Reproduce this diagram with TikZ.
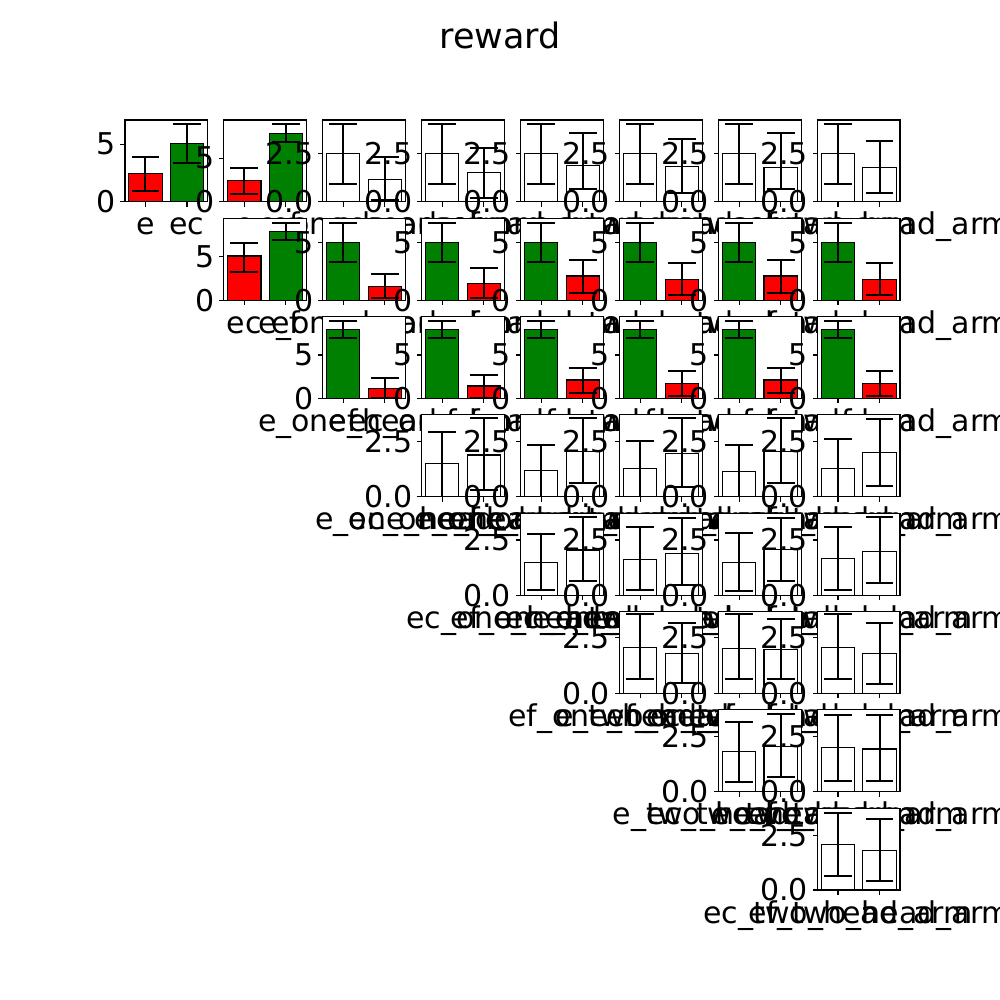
\documentclass[tikz,border=0pt]{standalone}
\usepackage{fontspec}
\setmainfont{DejaVu Sans}
\definecolor{mplgreen}{HTML}{008000}
\definecolor{mplred}{HTML}{FF0000}
\tikzset{
  barbox/.style={draw=black, line width=1.1pt},
  errline/.style={draw=black, line width=2pt},
  spine/.style={draw=black, line width=1.1pt},
  tickmark/.style={draw=black, line width=1.1pt},
  ticklab/.style={inner sep=0pt, outer sep=0pt, font=\fontsize{30}{36}\selectfont},
}
\newcommand\cnd[1]{\ifcase#1 e\or ec\or ef\or e\_one\_head\_arm\or ec\_one\_head\_arm\or ef\_one\_head\_arm\or e\_two\_head\_arm\or ec\_two\_head\_arm\or ef\_two\_head\_arm\fi}
\newcommand\bars[8]{\def\cA{#1}\def\hA{#2}\def\tA{#3}\def\bA{#4}\def\cB{#5}\def\hB{#6}\def\tB{#7}\def\bB{#8}}
\newcommand\panel[5]{%
  \pgfmathsetmacro\L{125+#2*98.94}%
  \pgfmathsetmacro\R{\L+82.45}%
  \pgfmathsetmacro\B{201.9+#1*98.3}%
  \pgfmathsetmacro\T{\B-81.9}%
  \pgfmathsetmacro\xA{\L+20.4}%
  \pgfmathsetmacro\xB{\L+62.0}%
  \fill[white] (\L,\T) rectangle (\R,\B);
  \begin{scope}
    \clip (\L,\T) rectangle (\R,\B);
    \filldraw[barbox, fill=\cA] (\xA-16.65,\B) rectangle (\xA+16.65,\B-\hA);
    \filldraw[barbox, fill=\cB] (\xB-16.65,\B) rectangle (\xB+16.65,\B-\hB);
    \draw[errline] (\xA,\B-\tA) -- (\xA,\B-\bA)
      (\xA-13.9,\B-\tA) -- (\xA+13.9,\B-\tA) (\xA-13.9,\B-\bA) -- (\xA+13.9,\B-\bA);
    \draw[errline] (\xB,\B-\tB) -- (\xB,\B-\bB)
      (\xB-13.9,\B-\tB) -- (\xB+13.9,\B-\tB) (\xB-13.9,\B-\bB) -- (\xB+13.9,\B-\bB);
  \end{scope}
  \draw[spine] (\L,\T) rectangle (\R,\B);
  \draw[tickmark] (\xA,\B) -- (\xA,\B+4.9) (\xB,\B) -- (\xB,\B+4.9)
    (\L,\B) -- (\L-4.9,\B) (\L,\B-#5) -- (\L-4.9,\B-#5);
  \node[ticklab, anchor=east] (yz-#1-#2) at (\L-9.7,\B) {#4};
  \node[ticklab, anchor=east] (yt-#1-#2) at (\L-9.7,\B-#5) {#3};
  \node[ticklab, anchor=base] (xa-#1-#2) at (\xA,\B+33) {\cnd{#1}};
  \node[ticklab, anchor=base] (xb-#1-#2) at (\xB,\B+33) {\cnd{\numexpr#2+1\relax}};
}
\begin{document}
\begin{tikzpicture}[x=1pt,y=-1pt]
\useasboundingbox (0,0) rectangle (1000,1000);
\clip (0,0) rectangle (1000,1000);
\fill[white] (0,0) rectangle (1000,1000);
\node[inner sep=0pt, anchor=base, font=\fontsize{35}{42}\selectfont] (title) at (500,48.3) {reward};
% row 0
\bars{mplred}{28}{45}{11}{mplgreen}{58.7}{78}{39.3}\panel{0}{0}{5}{0}{57.7}
\bars{mplred}{21}{34.3}{7.7}{mplgreen}{68.7}{77.7}{60.3}\panel{0}{1}{5}{0}{43.7}
\bars{white}{48}{77.7}{17.7}{white}{22.7}{45.3}{2}\panel{0}{2}{2.5}{0.0}{48.7}
\bars{white}{48}{77.7}{18}{white}{29.3}{53.7}{3.7}\panel{0}{3}{2.5}{0.0}{48.7}
\bars{white}{48}{77.7}{18}{white}{36}{68.7}{12.7}\panel{0}{4}{2.5}{0.0}{48.7}
\bars{white}{48}{77.7}{18}{white}{35.3}{62.7}{8.7}\panel{0}{5}{2.5}{0.0}{48.7}
\bars{white}{48}{77.7}{18}{white}{34.7}{69.3}{12.7}\panel{0}{6}{2.5}{0.0}{48.7}
\bars{white}{48}{77.7}{18}{white}{34.7}{61.3}{8.7}\panel{0}{7}{2.5}{0.0}{48.7}
% row 1
\bars{mplred}{44.2}{57.5}{28.5}{mplgreen}{68.5}{77.5}{60.2}\panel{1}{1}{5}{0}{43.5}
\bars{mplgreen}{57.9}{77.5}{38.5}{mplred}{13.5}{26.2}{2}\panel{1}{2}{5}{0}{57.5}
\bars{mplgreen}{57.9}{77.5}{38.5}{mplred}{16.9}{31.9}{2}\panel{1}{3}{5}{0}{57.5}
\bars{mplgreen}{57.9}{77.5}{38.5}{mplred}{24.2}{40.2}{7.5}\panel{1}{4}{5}{0}{57.5}
\bars{mplgreen}{57.9}{77.5}{38.5}{mplred}{20.9}{36.9}{5.2}\panel{1}{5}{5}{0}{57.5}
\bars{mplgreen}{57.9}{77.5}{38.5}{mplred}{24.2}{40.2}{7.5}\panel{1}{6}{5}{0}{57.5}
\bars{mplgreen}{57.9}{77.5}{38.5}{mplred}{20.9}{36.9}{5.2}\panel{1}{7}{5}{0}{57.5}
% row 2
\bars{mplgreen}{69.2}{77.8}{60.2}{mplred}{10.2}{20.2}{0.2}\panel{2}{2}{5}{0}{43.5}
\bars{mplgreen}{69.2}{77.8}{60.2}{mplred}{12.5}{23.8}{0.8}\panel{2}{3}{5}{0}{43.5}
\bars{mplgreen}{69.2}{77.8}{60.2}{mplred}{18.5}{30.2}{5.2}\panel{2}{4}{5}{0}{43.5}
\bars{mplgreen}{69.2}{77.8}{60.2}{mplred}{15.2}{27.8}{2.8}\panel{2}{5}{5}{0}{43.5}
\bars{mplgreen}{69.2}{77.8}{60.2}{mplred}{18.5}{30.2}{5.2}\panel{2}{6}{5}{0}{43.5}
\bars{mplgreen}{69.2}{77.8}{60.2}{mplred}{15.2}{27.2}{2.8}\panel{2}{7}{5}{0}{43.5}
% row 3
\bars{white}{33.5}{65.1}{0}{white}{41.8}{78.5}{6.8}\panel{3}{3}{2.5}{0.0}{55.1}
\bars{white}{26.1}{51.8}{0}{white}{45.1}{78.5}{14.1}\panel{3}{4}{2.5}{0.0}{55.1}
\bars{white}{28.1}{56.1}{0}{white}{43.5}{78.5}{10.1}\panel{3}{5}{2.5}{0.0}{55.1}
\bars{white}{25.1}{51.5}{0}{white}{45.1}{78.5}{14.1}\panel{3}{6}{2.5}{0.0}{55.1}
\bars{white}{28.5}{57.5}{0}{white}{44.5}{77.8}{11.1}\panel{3}{7}{2.5}{0.0}{55.1}
% row 4
\bars{white}{32.8}{61.1}{5.1}{white}{45.1}{77.8}{14.1}\panel{4}{4}{2.5}{0.0}{55.1}
\bars{white}{36}{68}{5}{white}{42}{77}{10}\panel{4}{5}{2.5}{0.0}{55.1}
\bars{white}{33}{62}{4}{white}{46}{77}{14}\panel{4}{6}{2.5}{0.0}{55.1}
\bars{white}{37}{68}{5}{white}{44}{78}{12}\panel{4}{7}{2.5}{0.0}{55.1}
% row 5
\bars{white}{46.1}{79}{14.4}{white}{40.1}{70.7}{10.1}\panel{5}{5}{2.5}{0.0}{56}
\bars{white}{45.1}{79}{14.4}{white}{44.1}{74.1}{14.1}\panel{5}{6}{2.5}{0.0}{56}
\bars{white}{46.1}{79}{14.4}{white}{40.1}{70.1}{9.4}\panel{5}{7}{2.5}{0.0}{56}
% row 6
\bars{white}{40}{70}{10}{white}{45}{77.4}{14.4}\panel{6}{6}{2.5}{0.0}{55}
\bars{white}{44}{76.7}{10.7}{white}{42.7}{76.7}{11}\panel{6}{7}{2.5}{0.0}{55}
% row 7
\bars{white}{45.7}{77.3}{14}{white}{39.3}{70.7}{9}\panel{7}{7}{2.5}{0.0}{54.5}
\end{tikzpicture}
\end{document}
